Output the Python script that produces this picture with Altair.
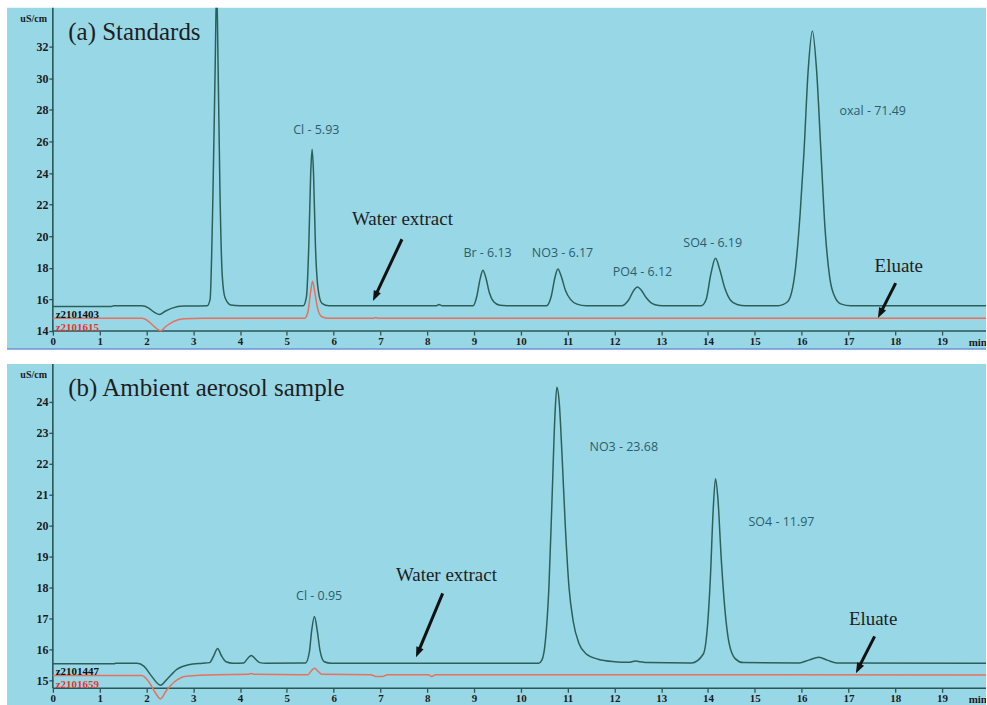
import math
import altair as alt
import pandas as pd

# ---------------- data ----------------
# panel (a) standards: (time [min], conductivity [uS/cm])
a_standard = [
    (0.0, 15.55), (1.25, 15.55), (1.3, 15.6), (1.9, 15.6), (2.05, 15.45), (2.15, 15.22),
    (2.28, 15.05), (2.4, 15.25), (2.55, 15.45), (2.8, 15.58), (3.3, 15.6), (3.36, 16.0),
    (3.42, 22.5), (3.47, 31.0), (3.5, 36.0), (3.53, 31.0), (3.57, 23.0), (3.62, 17.5),
    (3.68, 16.1), (3.8, 15.65), (4.0, 15.6), (5.35, 15.6), (5.42, 16.2), (5.47, 19.5),
    (5.51, 24.0), (5.54, 25.5), (5.57, 24.0), (5.61, 19.5), (5.67, 16.6), (5.75, 15.75),
    (5.9, 15.6), (8.2, 15.6), (8.25, 15.68), (8.32, 15.6), (8.98, 15.6), (9.06, 16.2),
    (9.13, 17.3), (9.19, 17.85), (9.25, 17.4), (9.33, 16.4), (9.42, 15.85), (9.55, 15.63),
    (9.7, 15.6), (10.55, 15.6), (10.65, 16.2), (10.73, 17.4), (10.79, 17.92), (10.86, 17.5),
    (10.95, 16.6), (11.06, 16.0), (11.2, 15.7), (11.4, 15.6), (12.15, 15.6), (12.3, 15.95),
    (12.42, 16.6), (12.49, 16.78), (12.57, 16.6), (12.68, 16.1), (12.8, 15.75), (12.95, 15.62),
    (13.1, 15.6), (13.85, 15.6), (13.96, 16.0), (14.06, 17.6), (14.16, 18.6), (14.25, 17.9),
    (14.36, 16.7), (14.48, 15.95), (14.62, 15.68), (14.8, 15.6), (15.5, 15.6), (15.7, 15.85),
    (15.85, 17.5), (15.97, 21.5), (16.05, 25.3), (16.14, 30.5), (16.23, 33.0), (16.32, 30.5),
    (16.41, 25.5), (16.5, 20.5), (16.6, 17.4), (16.72, 16.1), (16.85, 15.7), (17.05, 15.6),
    (19.94, 15.6),
]
a_eluate = [
    (0.0, 14.8), (1.9, 14.8), (2.05, 14.6), (2.18, 14.25), (2.3, 14.02), (2.42, 14.3),
    (2.58, 14.6), (2.8, 14.78), (3.2, 14.8), (5.38, 14.8), (5.45, 15.2), (5.5, 16.3),
    (5.55, 17.15), (5.6, 16.4), (5.66, 15.4), (5.75, 14.9), (5.9, 14.8), (6.85, 14.8),
    (6.9, 14.86), (6.95, 14.8), (19.94, 14.8),
]
# panel (b) ambient aerosol sample
b_sample = [
    (0.0, 15.53), (1.3, 15.53), (1.35, 15.55), (1.8, 15.55), (1.95, 15.45), (2.1, 15.15),
    (2.3, 14.84), (2.45, 15.05), (2.65, 15.35), (2.9, 15.5), (3.2, 15.55), (3.35, 15.57),
    (3.44, 15.8), (3.52, 16.03), (3.6, 15.8), (3.7, 15.6), (3.85, 15.55), (4.08, 15.56),
    (4.17, 15.72), (4.24, 15.8), (4.32, 15.7), (4.42, 15.57), (4.55, 15.55), (5.4, 15.56),
    (5.48, 15.9), (5.53, 16.6), (5.59, 17.06), (5.65, 16.6), (5.71, 15.95), (5.8, 15.6),
    (5.95, 15.55), (10.38, 15.55), (10.45, 15.65), (10.52, 16.2), (10.6, 18.0), (10.67, 21.0),
    (10.73, 23.6), (10.77, 24.48), (10.82, 24.0), (10.88, 22.3), (10.95, 20.0), (11.03, 18.0),
    (11.12, 16.9), (11.24, 16.2), (11.4, 15.85), (11.65, 15.68), (12.0, 15.6), (12.3, 15.58),
    (12.45, 15.62), (12.55, 15.6), (12.7, 15.57), (13.65, 15.56), (13.9, 15.85), (13.98, 16.6),
    (14.05, 18.3), (14.11, 20.5), (14.16, 21.52), (14.21, 20.9), (14.28, 19.0), (14.36, 17.3),
    (14.45, 16.2), (14.58, 15.7), (14.75, 15.57), (15.95, 15.56), (16.15, 15.65),
    (16.37, 15.74), (16.55, 15.65), (16.75, 15.56), (19.94, 15.55),
]
b_eluate = [
    (0.0, 15.15), (1.9, 15.15), (2.05, 14.95), (2.18, 14.62), (2.3, 14.4), (2.42, 14.65),
    (2.6, 14.95), (2.85, 15.13), (3.5, 15.18), (4.18, 15.19), (4.24, 15.22), (4.3, 15.19),
    (5.45, 15.18), (5.52, 15.3), (5.59, 15.39), (5.66, 15.3), (5.75, 15.19), (6.8, 15.18),
    (6.9, 15.12), (7.05, 15.12), (7.15, 15.18), (8.02, 15.18), (8.1, 15.12), (8.18, 15.18),
    (19.94, 15.17),
]

x_ticks = list(range(0, 20))
a_y_ticks = [14, 16, 18, 20, 22, 24, 26, 28, 30, 32]
b_y_ticks = [15, 16, 17, 18, 19, 20, 21, 22, 23, 24]

a_trace_names = ["z2101403", "z2101615"]
b_trace_names = ["z2101447", "z2101659"]

a_titles = ["(a) Standards"]
b_titles = ["(b) Ambient aerosol sample"]

a_peak_labels = [("Cl - 5.93", 5.63, 26.7), ("Br - 6.13", 9.29, 18.93),
                 ("NO3 - 6.17", 10.89, 18.93), ("PO4 - 6.12", 12.6, 17.73),
                 ("SO4 - 6.19", 14.1, 19.56), ("oxal - 71.49", 17.52, 27.96)]
b_peak_labels = [("Cl - 0.95", 5.69, 17.71), ("NO3 - 23.68", 12.2, 22.55),
                 ("SO4 - 11.97", 15.57, 20.13)]

a_notes = [("Water extract", 6.39, 21.07), ("Eluate", 17.56, 18.1)]
b_notes = [("Water extract", 7.33, 18.39), ("Eluate", 17.01, 16.97)]

# arrows: (start x, start y, tip x, tip y)
a_arrows = [(7.46, 19.81, 6.84, 15.9), (18.01, 17.03, 17.63, 14.82)]
b_arrows = [(8.33, 17.81, 7.76, 15.74), (17.56, 16.42, 17.16, 15.23)]

# ---------------- styling ----------------
BG = "#98d7e6"
TRACE = "#2c5f5a"
RED = "#e8705c"
AXC = "#2a5656"
LABC = "#2b5e6c"
W = 981
H = 342
X_DOM = [-0.98, 19.94]
A_Y_DOM = [12.86, 34.47]
B_Y_DOM = [14.19, 25.23]
A_BASE = 14.0
B_BASE = 14.742


def make_panel(sample, eluate, names, y_dom, y_ticks, base, titles, peaks, notes, arrows,
               bottom_line):
    kx = W / (X_DOM[1] - X_DOM[0])
    ky = H / (y_dom[1] - y_dom[0])
    x_off = -round((base - y_dom[0]) * ky)

    xaxis = alt.Axis(values=x_ticks, offset=x_off, domain=False, grid=False, tickSize=4,
                     tickColor=AXC, tickWidth=1.3, labelFont="Liberation Serif",
                     labelFontWeight="bold", labelFontSize=11, labelColor="#1b1b1b",
                     labelPadding=0, labelFlush=False, labelOverlap=False, title=None)
    yaxis = alt.Axis(values=y_ticks, offset=-46, domain=False, grid=False, tickSize=4,
                     tickColor=AXC, tickWidth=1.3, labelFont="Liberation Serif",
                     labelFontWeight="bold", labelFontSize=12, labelColor="#1b1b1b",
                     labelPadding=1, labelFlush=False, labelOverlap=False, title=None)

    def X(f="x"):
        return alt.X(f"{f}:Q", scale=alt.Scale(domain=X_DOM, nice=False, zero=False), axis=xaxis)

    def Y(f="y"):
        return alt.Y(f"{f}:Q", scale=alt.Scale(domain=y_dom, nice=False, zero=False), axis=yaxis)

    def trace(points, color):
        df = pd.DataFrame([{"x": t, "y": v, "o": i} for i, (t, v) in enumerate(points)])
        return alt.Chart(df).mark_line(interpolate="monotone", strokeWidth=1.5, clip=True,
                                       color=color).encode(x=X(), y=Y(), order="o:Q")

    vline = alt.Chart(pd.DataFrame([{"x": 0, "y": base, "y2": y_dom[1]}])).mark_rule(
        color=AXC, strokeWidth=1.6).encode(x=X(), y=Y(), y2="y2:Q")
    hline = alt.Chart(pd.DataFrame([{"x": 0, "x2": X_DOM[1], "y": base}])).mark_rule(
        color=AXC, strokeWidth=1.6).encode(x=X(), x2="x2:Q", y=Y())

    layers = [vline, hline, trace(eluate, RED), trace(sample, TRACE)]

    if bottom_line:
        layers.append(alt.Chart(pd.DataFrame([{"x": X_DOM[0], "x2": X_DOM[1], "y": y_dom[0]}]))
                      .mark_rule(color="#6f93d6", strokeWidth=1.6)
                      .encode(x=X(), x2="x2:Q", y=Y()))

    # title
    tdf = pd.DataFrame([{"x": 0.33, "y": y_dom[1] - (y_dom[1] - y_dom[0]) * 24 / H,
                         "t": titles[0]}])
    layers.append(alt.Chart(tdf).mark_text(align="left", baseline="middle",
                                           font="Liberation Serif", fontSize=25,
                                           color="#1e1e1e").encode(x=X(), y=Y(), text="t:N"))
    # unit label
    udf = pd.DataFrame([{"x": -0.41, "y": y_dom[1] - (y_dom[1] - y_dom[0]) * 11 / H,
                         "t": "uS/cm"}])
    layers.append(alt.Chart(udf).mark_text(align="center", baseline="middle",
                                           font="Liberation Serif", fontWeight="bold",
                                           fontSize=10, color="#1b1b1b")
                  .encode(x=X(), y=Y(), text="t:N"))
    # min label
    mdf = pd.DataFrame([{"x": 19.57, "y": base - 12 / ky, "t": "min"}])
    layers.append(alt.Chart(mdf).mark_text(align="left", baseline="middle", clip=True,
                                           font="Liberation Serif", fontWeight="bold",
                                           fontSize=11, color="#1b1b1b")
                  .encode(x=X(), y=Y(), text="t:N"))
    # trace names
    for name, dy, col in [(names[0], 16, "#111111"), (names[1], 3, "#e8342a")]:
        ndf = pd.DataFrame([{"x": 0.06, "y": base + dy / ky, "t": name}])
        layers.append(alt.Chart(ndf).mark_text(align="left", baseline="middle",
                                               font="Liberation Serif", fontWeight="bold",
                                               fontSize=11, color=col)
                      .encode(x=X(), y=Y(), text="t:N"))
    # peak labels
    pdf = pd.DataFrame([{"t": t, "x": x, "y": y} for t, x, y in peaks])
    layers.append(alt.Chart(pdf).mark_text(align="center", baseline="middle", font="Open Sans",
                                           fontSize=12.5, color=LABC)
                  .encode(x=X(), y=Y(), text="t:N"))
    # notes
    ndf2 = pd.DataFrame([{"t": t, "x": x, "y": y} for t, x, y in notes])
    layers.append(alt.Chart(ndf2).mark_text(align="left", baseline="middle",
                                            font="Liberation Serif", fontSize=19,
                                            color="#1e1e1e")
                  .encode(x=X(), y=Y(), text="t:N"))
    # arrows
    arows = []
    heads = []
    for sx, sy, tx, ty in arrows:
        dx = (tx - sx) * kx
        dy = -(ty - sy) * ky
        L = math.hypot(dx, dy)
        ux, uy = dx / L, dy / L
        ex = tx - 7 * ux / kx
        ey = ty + 7 * uy / ky
        ang = math.degrees(math.atan2(dx, -dy)) % 360
        arows.append({"x": sx, "y": sy, "x2": ex, "y2": ey})
        heads.append({"x": tx, "y": ty, "a": ang})
    layers.append(alt.Chart(pd.DataFrame(arows)).mark_rule(color="#111111", strokeWidth=3)
                  .encode(x=X(), y=Y(), x2="x2:Q", y2="y2:Q"))
    layers.append(alt.Chart(pd.DataFrame(heads)).mark_point(
        shape="M0,0 L-0.45,1.2 L0.45,1.2 Z", filled=True, size=300, color="#111111", opacity=1,
        strokeWidth=0).encode(x=X(), y=Y(), angle=alt.Angle("a:Q", scale=None)))

    return alt.layer(*layers).properties(width=W, height=H)


top = make_panel(a_standard, a_eluate, a_trace_names, A_Y_DOM, a_y_ticks, A_BASE, a_titles,
                 a_peak_labels, a_notes, a_arrows, True)
bottom = make_panel(b_sample, b_eluate, b_trace_names, B_Y_DOM, b_y_ticks, B_BASE, b_titles,
                    b_peak_labels, b_notes, b_arrows, False)

chart = alt.vconcat(top, bottom, spacing=15, bounds="flush").properties(
    padding={"left": 6, "top": 6, "right": 0, "bottom": 0},
    background="white",
).configure_view(fill=BG, stroke=None)

chart.save("out.html", embed_options={"renderer": "svg", "actions": False})
